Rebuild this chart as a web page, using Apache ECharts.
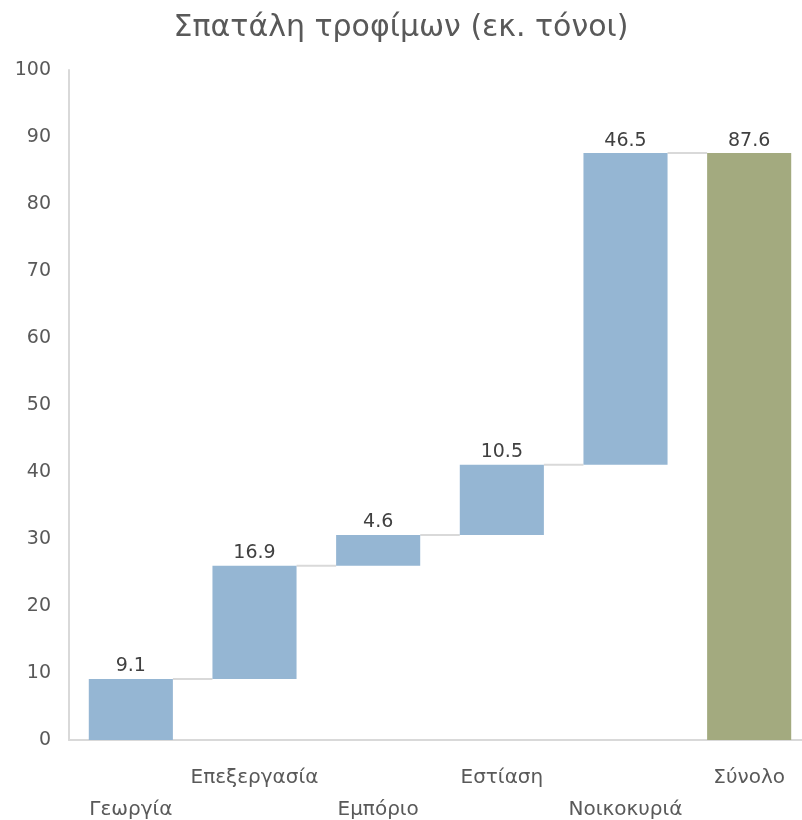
<!DOCTYPE html>
<html>
<head>
<meta charset="utf-8">
<script src="https://cdn.jsdelivr.net/npm/echarts@6/dist/echarts.min.js"></script>
<style>
  html, body { margin: 0; padding: 0; background: #fff; }
  #chart { width: 802px; height: 820px; }
</style>
</head>
<body>
<div id="chart"></div>
<script>
// food waste by stage (million tonnes)
var categories = ['Γεωργία', 'Επεξεργασία', 'Εμπόριο', 'Εστίαση', 'Νοικοκυριά', 'Σύνολο'];
var values = [9.1, 16.9, 4.6, 10.5, 46.5, 87.6];
var isTotal = [false, false, false, false, false, true];

// invisible base for each floating bar
var base = [];
var running = 0;
for (var i = 0; i < values.length; i++) {
  if (isTotal[i]) {
    base.push(0);
  } else {
    base.push(+running.toFixed(1));
    running += values[i];
  }
}
// connector levels between bar i and bar i+1
var connectors = [];
for (var j = 0; j < values.length - 1; j++) {
  connectors.push([j, +(base[j] + values[j]).toFixed(1)]);
}

var BAR_RATIO = 0.68;
var chart = echarts.init(document.getElementById('chart'));
chart.setOption({
  animation: false,
  textStyle: { fontFamily: 'DejaVu Sans, sans-serif' },
  title: {
    text: 'Σπατάλη τροφίμων (εκ. τόνοι)',
    left: 'center',
    top: 8,
    textStyle: { fontSize: 30, fontWeight: 'normal', color: '#595959', fontFamily: 'DejaVu Sans' }
  },
  grid: { left: 69, right: -9, top: 70, bottom: 80, outerBoundsMode: 'none' },
  xAxis: {
    type: 'category',
    data: categories,
    axisLine: { lineStyle: { color: '#d9d9d9', width: 2 } },
    axisTick: { show: false },
    axisLabel: {
      interval: 0,
      margin: 22,
      fontSize: 20,
      lineHeight: 32,
      color: '#595959',
      formatter: function (v, idx) { return idx % 2 === 0 ? '\n' + v : v; }
    }
  },
  yAxis: {
    type: 'value',
    min: 0,
    max: 100,
    interval: 10,
    axisLine: { show: true, lineStyle: { color: '#d9d9d9', width: 2 } },
    axisTick: { show: false },
    splitLine: { show: false },
    axisLabel: { fontSize: 19, color: '#595959', margin: 18 }
  },
  series: [
    {
      type: 'custom',
      z: 1,
      data: connectors,
      renderItem: function (params, api) {
        var lvl = api.value(1);
        var p0 = api.coord([api.value(0), lvl]);
        var p1 = api.coord([api.value(0) + 1, lvl]);
        var hw = api.size([1, 0])[0] * BAR_RATIO / 2;
        return {
          type: 'line',
          shape: { x1: p0[0] + hw, y1: p0[1], x2: p1[0] - hw, y2: p1[1] },
          style: { stroke: '#d9d9d9', lineWidth: 2 }
        };
      }
    },
    {
      type: 'bar',
      stack: 'wf',
      barWidth: (BAR_RATIO * 100) + '%',
      itemStyle: { color: 'transparent' },
      emphasis: { disabled: true },
      data: base,
      z: 2
    },
    {
      type: 'bar',
      stack: 'wf',
      z: 2,
      data: values.map(function (v, k) {
        return { value: v, itemStyle: { color: isTotal[k] ? '#a3aa7f' : '#95b6d3' } };
      }),
      label: {
        show: true,
        position: 'top',
        distance: 3,
        fontSize: 19,
        color: '#404040'
      }
    }
  ]
});
</script>
</body>
</html>
